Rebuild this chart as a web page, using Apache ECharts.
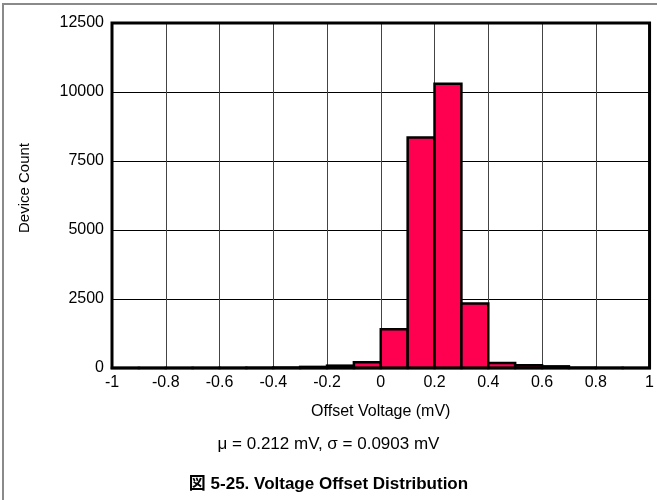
<!DOCTYPE html>
<html><head><meta charset="utf-8">
<script src="https://cdn.jsdelivr.net/npm/echarts@6/dist/echarts.min.js"></script>
<style>
html,body{margin:0;padding:0;background:#fff;}
#frame{position:absolute;left:2px;top:3px;width:700px;height:600px;border-left:2px solid #8a8a8a;border-top:2px solid #8a8a8a;}
#c{position:absolute;left:0;top:0;width:657px;height:500px;}
</style></head>
<body>
<div id="frame"></div>
<div id="c"></div>
<script>
const binStarts = [-1.0,-0.9,-0.8,-0.7,-0.6,-0.5,-0.4,-0.3,-0.2,-0.1,0.0,0.1,0.2,0.3,0.4,0.5,0.6,0.7,0.8,0.9];
const binWidth = 0.1;
const counts = [2,2,2,3,4,8,15,40,85,210,1400,8350,10300,2340,180,100,60,12,5,3];
const xTicks = ['-1','-0.8','-0.6','-0.4','-0.2','0','0.2','0.4','0.6','0.8','1'];
const yTicks = ['0','2500','5000','7500','10000','12500'];
const xTitle = 'Offset Voltage (mV)';
const yTitle = 'Device Count';
const statsText = 'μ = 0.212 mV, σ = 0.0903 mV';
const figTitle = '図 5-25. Voltage Offset Distribution';

const data = binStarts.map((s,i)=>[s, s+binWidth, counts[i]]);
const chart = echarts.init(document.getElementById('c'), null, {renderer:'canvas'});
const font = 'Liberation Sans, Arial, sans-serif';
chart.setOption({
  animation:false,
  grid:{left:112,right:4,top:23,bottom:132,show:true,borderColor:'#000',borderWidth:3,z:5},
  xAxis:{type:'value',min:-1,max:1,interval:0.2,
    axisLine:{show:false},axisTick:{show:false},
    splitLine:{show:true,lineStyle:{color:'#444',width:1}},
    axisLabel:{color:'#000',fontSize:16,fontFamily:font,margin:7,
      formatter:(v)=>{const i=Math.round((v+1)/0.2);return xTicks[i]!==undefined?xTicks[i]:'';}},
    name:xTitle,nameLocation:'middle',nameGap:36,
    nameTextStyle:{color:'#000',fontSize:16,fontFamily:font}},
  yAxis:{type:'value',min:0,max:12500,interval:2500,
    axisLine:{show:false},axisTick:{show:false},
    splitLine:{show:true,lineStyle:{color:'#000',width:1}},
    axisLabel:{color:'#000',fontSize:16,fontFamily:font,margin:8,
      formatter:(v)=>yTicks[Math.round(v/2500)]}},
  graphic:[
    {type:'text',x:25,y:188,rotation:Math.PI/2,style:{text:yTitle,fill:'#000',font:'15px '+font,textAlign:'center',textVerticalAlign:'middle'}},
    {type:'text',left:'center',top:436,style:{text:statsText,fill:'#000',font:'17px '+font,textAlign:'center'}},
    {type:'text',left:'center',top:476,style:{text:figTitle,fill:'#000',font:'bold 17px Liberation Sans, Arial, "Noto Sans CJK JP", sans-serif',textAlign:'center'}}
  ],
  series:[{
    type:'custom',
    data:data,
    encode:{x:[0,1],y:2},
    z:3,
    renderItem:function(params,api){
      const p0=api.coord([api.value(0),api.value(2)]);
      const p1=api.coord([api.value(1),0]);
      return {type:'rect',
        shape:{x:p0[0],y:p0[1],width:p1[0]-p0[0],height:p1[1]-p0[1]},
        style:{fill:'#ff0050',stroke:'#000',lineWidth:2.5}};
    }
  }]
});
</script>
</body></html>
